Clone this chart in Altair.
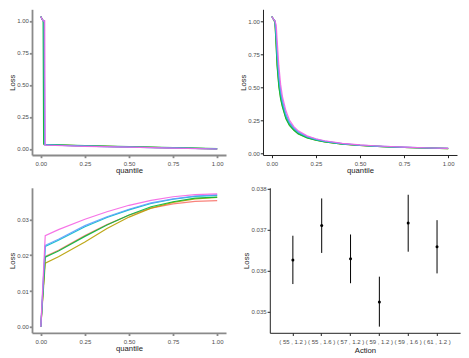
import altair as alt
import pandas as pd

# ---------------- data ----------------
series = ["s1", "s2", "s3", "s4", "s5", "s6"]
colors = ["#F8766D", "#B79F00", "#00BA38", "#00BFC4", "#619CFF", "#F564E3"]

# top-left panel: quantile grid and loss per series
q_tl = [0, 0.008, 0.013, 0.016, 0.019, 0.022, 0.025, 0.04, 0.25, 0.5, 0.75, 1.0]
loss_tl = [
    [1.035, 1.012, 1.002, 1.000, 0.034, 0.034, 0.033, 0.032, 0.024, 0.016, 0.008, 0.001],
    [1.035, 1.012, 1.002, 1.000, 0.036, 0.035, 0.035, 0.034, 0.025, 0.017, 0.009, 0.001],
    [1.035, 1.012, 1.002, 0.038, 0.037, 0.037, 0.036, 0.035, 0.026, 0.018, 0.010, 0.002],
    [1.035, 1.012, 1.002, 1.000, 1.000, 0.033, 0.033, 0.032, 0.023, 0.015, 0.008, 0.001],
    [1.035, 1.012, 1.002, 1.000, 1.000, 0.032, 0.032, 0.031, 0.022, 0.015, 0.007, 0.000],
    [1.035, 1.012, 1.002, 1.000, 1.000, 1.000, 0.030, 0.029, 0.021, 0.014, 0.007, 0.000],
]

# top-right panel
q_tr = [0, 0.01, 0.018, 0.025, 0.03, 0.04, 0.05, 0.06, 0.08, 0.1, 0.125, 0.15,
        0.2, 0.25, 0.3, 0.4, 0.5, 0.6, 0.75, 0.9, 1.0]
loss_tr = [
    [1.035, 1.012, 1.0, 0.84, 0.70, 0.53, 0.43, 0.365, 0.27, 0.218, 0.179, 0.150, 0.119, 0.100, 0.086, 0.069, 0.058, 0.051, 0.043, 0.038, 0.035],
    [1.035, 1.012, 0.99, 0.81, 0.67, 0.51, 0.415, 0.355, 0.263, 0.212, 0.174, 0.147, 0.116, 0.098, 0.085, 0.068, 0.058, 0.050, 0.042, 0.037, 0.034],
    [1.035, 1.012, 0.99, 0.80, 0.66, 0.50, 0.41, 0.35, 0.26, 0.21, 0.172, 0.145, 0.115, 0.097, 0.084, 0.067, 0.057, 0.050, 0.042, 0.037, 0.034],
    [1.035, 1.012, 1.0, 0.88, 0.74, 0.56, 0.45, 0.38, 0.28, 0.225, 0.185, 0.155, 0.122, 0.102, 0.088, 0.070, 0.059, 0.051, 0.043, 0.038, 0.035],
    [1.035, 1.012, 1.0, 0.90, 0.77, 0.59, 0.475, 0.40, 0.295, 0.235, 0.192, 0.160, 0.126, 0.105, 0.090, 0.071, 0.060, 0.052, 0.044, 0.038, 0.035],
    [1.035, 1.012, 1.0, 0.97, 0.86, 0.66, 0.52, 0.43, 0.32, 0.25, 0.20, 0.168, 0.130, 0.108, 0.093, 0.073, 0.061, 0.053, 0.044, 0.038, 0.035],
]

# bottom-left panel
q_bl = [0, 0.025, 0.1, 0.25, 0.375, 0.5, 0.625, 0.75, 0.875, 1.0]
loss_bl = [
    [0, 0.0197, 0.0214, 0.0255, 0.0286, 0.0312, 0.0332, 0.0344, 0.0351, 0.0353],
    [0, 0.0178, 0.0196, 0.0237, 0.0275, 0.0307, 0.0332, 0.0348, 0.0358, 0.0362],
    [0, 0.0195, 0.0212, 0.0253, 0.0285, 0.0313, 0.0336, 0.0350, 0.0360, 0.0363],
    [0, 0.0225, 0.0242, 0.0280, 0.0306, 0.0327, 0.0345, 0.0357, 0.0365, 0.0368],
    [0, 0.0228, 0.0245, 0.0283, 0.0308, 0.0329, 0.0347, 0.0358, 0.0366, 0.0369],
    [0, 0.0255, 0.0272, 0.0301, 0.0322, 0.0340, 0.0354, 0.0364, 0.0370, 0.0372],
]

# bottom-right panel
actions = ["( 55 , 1.2 )", "( 55 , 1.6 )", "( 57 , 1.2 )", "( 59 , 1.2 )", "( 59 , 1.6 )", "( 61 , 1.2 )"]
action_mean = [0.03626, 0.03710, 0.03629, 0.03523, 0.03716, 0.03658]
action_lo = [0.03567, 0.03643, 0.03569, 0.03463, 0.03646, 0.03593]
action_hi = [0.03685, 0.03776, 0.03688, 0.03585, 0.03785, 0.03723]

quant_ticks = [0, 0.25, 0.5, 0.75, 1.0]
tl_ticks = [0, 0.25, 0.5, 0.75, 1.0]
bl_ticks = [0, 0.01, 0.02, 0.03]
br_ticks = [0.035, 0.036, 0.037, 0.038]


def long_df(qs, rows):
    recs = []
    for s, vals in zip(series, rows):
        for i, (q, v) in enumerate(zip(qs, vals)):
            recs.append({"series": s, "q": q, "loss": v, "idx": i})
    return pd.DataFrame(recs)


df_tl = long_df(q_tl, loss_tl)
df_tr = long_df(q_tr, loss_tr)
df_bl = long_df(q_bl, loss_bl)
df_br = pd.DataFrame({"action": actions, "mean": action_mean, "lo": action_lo, "hi": action_hi})

FONT = "Liberation Sans"
LEFT_DOM = ("#8a8a8a", 1.8)
RIGHT_DOM = ("#222222", 1.0)
TITLE_COLOR = "#1a1a1a"


def xaxis(title, values, fmt, dom, ext=12, tpad=5.8):
    kw = dict(title=title, grid=False, tickSize=2.7, labelPadding=3.3,
              labelFontSize=6, labelColor="#4d4d4d", labelFont=FONT,
              titleFont=FONT, titleFontSize=7.7, titleFontWeight=400,
              titleColor=TITLE_COLOR, titleBaseline="alphabetic", titlePadding=tpad,
              minExtent=ext, maxExtent=ext, domainColor=dom[0], domainWidth=dom[1],
              tickColor=dom[0], tickWidth=dom[1], labelFlush=False, labelAngle=0)
    if values is not None:
        kw["values"] = values
    if fmt is not None:
        kw["format"] = fmt
    return alt.Axis(**kw)


def yaxis(values, fmt, dom, ext=14.5):
    return alt.Axis(title="Loss", values=values, format=fmt, grid=False,
                    tickSize=2.7, labelPadding=1, labelFontSize=6,
                    labelColor="#4d4d4d", labelFont=FONT, titleFont=FONT,
                    titleFontSize=7.7, titleFontWeight=400, titleColor=TITLE_COLOR,
                    titleBaseline="alphabetic", titlePadding=3,
                    minExtent=ext, maxExtent=ext, domainColor=dom[0],
                    domainWidth=dom[1], tickColor=dom[0], tickWidth=dom[1])


color_enc = alt.Color("series:N", scale=alt.Scale(domain=series, range=colors), legend=None)
xq_scale = alt.Scale(domain=[-0.05, 1.05], nice=False, zero=False)


def line_panel(df, ydom, yticks, yfmt, dom, w, h):
    return alt.Chart(df).mark_line(strokeWidth=1.2, opacity=0.9).encode(
        x=alt.X("q:Q", scale=xq_scale, axis=xaxis("quantile", quant_ticks, ".2f", dom)),
        y=alt.Y("loss:Q", scale=alt.Scale(domain=ydom, nice=False, zero=False),
                axis=yaxis(yticks, yfmt, dom)),
        color=color_enc,
        order="idx:Q",
    ).properties(width=w, height=h)


p1 = line_panel(df_tl, [-0.047, 1.091], tl_ticks, ".2f", LEFT_DOM, 194, 145.7)
p2 = line_panel(df_tr, [-0.015, 1.089], tl_ticks, ".2f", RIGHT_DOM, 194, 145.7)
p3 = line_panel(df_bl, [-0.0017, 0.0389], bl_ticks, ".2f", LEFT_DOM, 194, 145)

y4 = alt.Scale(domain=[0.03448, 0.03802], nice=False, zero=False)
x4 = alt.X("action:N", sort=actions, scale=alt.Scale(padding=0.6),
           axis=xaxis("Action", None, None, RIGHT_DOM, ext=12, tpad=7.3))
base4 = alt.Chart(df_br)
rules = base4.mark_rule(color="black", strokeWidth=1).encode(
    x=x4,
    y=alt.Y("lo:Q", scale=y4, axis=yaxis(br_ticks, ".3f", RIGHT_DOM, ext=18.2)),
    y2="hi:Q",
)
dots = base4.mark_point(filled=True, color="black", size=9, opacity=1).encode(
    x=x4,
    y=alt.Y("mean:Q", scale=y4, axis=yaxis(br_ticks, ".3f", RIGHT_DOM, ext=18.2)),
)
p4 = alt.layer(rules, dots).properties(width=190.3, height=145)

chart = alt.vconcat(
    alt.hconcat(p1, p2, spacing=13),
    alt.hconcat(p3, p4, spacing=15.8),
    spacing=9.5,
).properties(
    padding={"left": 0, "top": 1.3, "right": 0, "bottom": 0},
    background="white",
).configure_view(strokeWidth=0)

chart.save("out.html", embed_options={"renderer": "svg", "actions": False})
